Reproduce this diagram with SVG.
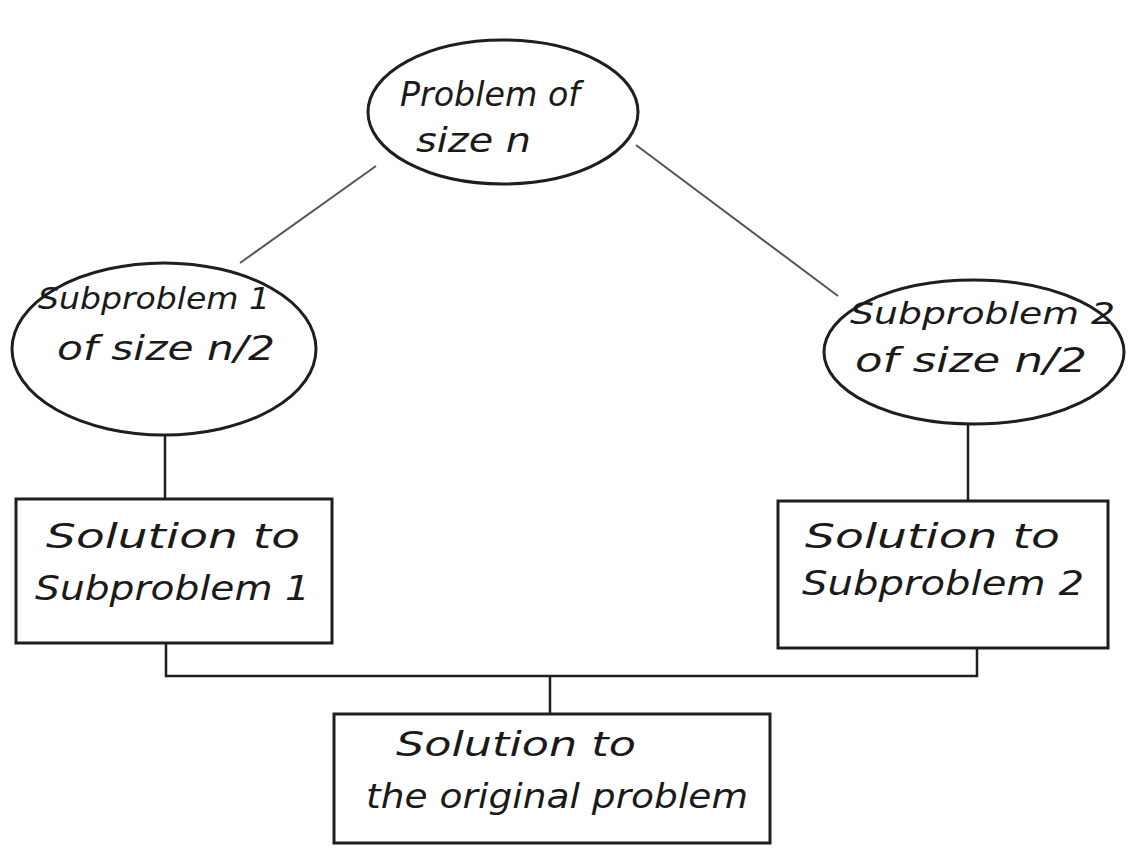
<svg xmlns="http://www.w3.org/2000/svg" width="1130" height="852" viewBox="0 0 1130 852">
<style>
.shape{fill:#fff;stroke:#1e1e1e;stroke-width:3}
.edge{fill:none;stroke:#1e1e1e;stroke-width:2.5}
.diag{fill:none;stroke:#555;stroke-width:2}
text{font-family:"DejaVu Sans","Liberation Sans",sans-serif;font-size:30px;fill:#1a1a1a;font-style:italic}
.big{font-size:34px}
</style>
<rect width="1130" height="852" fill="#fff"/>
<g id="connectors">
<line class="diag" x1="376" y1="166" x2="240" y2="263"/>
<line class="diag" x1="636" y1="145" x2="838" y2="296"/>
<line class="edge" x1="165" y1="435" x2="165" y2="499"/>
<line class="edge" x1="968" y1="424" x2="968" y2="501"/>
<polyline class="edge" points="166,642 166,676 977,676 977,648"/>
<line class="edge" x1="550" y1="676" x2="550" y2="714"/>
</g>
<g id="problem">
<ellipse class="shape" cx="503" cy="112" rx="135" ry="72"/>
<text class="big" x="400" y="106" textLength="180" lengthAdjust="spacingAndGlyphs">Problem of</text>
<text class="big" x="416" y="152" textLength="115" lengthAdjust="spacingAndGlyphs">size n</text>
</g>
<g id="sub1">
<ellipse class="shape" cx="164" cy="349" rx="152" ry="86"/>
<text x="38" y="309" textLength="232" lengthAdjust="spacingAndGlyphs">Subproblem 1</text>
<text class="big" x="57" y="360" textLength="218" lengthAdjust="spacingAndGlyphs">of size n/2</text>
</g>
<g id="sub2">
<ellipse class="shape" cx="974" cy="352" rx="150" ry="72"/>
<text x="850" y="324" textLength="265" lengthAdjust="spacingAndGlyphs">Subproblem 2</text>
<text class="big" x="855" y="372" textLength="232" lengthAdjust="spacingAndGlyphs">of size n/2</text>
</g>
<g id="sol1">
<rect class="shape" x="16" y="499" width="316" height="144"/>
<text class="big" x="46" y="548" textLength="254" lengthAdjust="spacingAndGlyphs">Solution to</text>
<text class="big" x="35" y="600" textLength="275" lengthAdjust="spacingAndGlyphs">Subproblem 1</text>
</g>
<g id="sol2">
<rect class="shape" x="778" y="501" width="330" height="147"/>
<text class="big" x="805" y="548" textLength="255" lengthAdjust="spacingAndGlyphs">Solution to</text>
<text class="big" x="802" y="595" textLength="282" lengthAdjust="spacingAndGlyphs">Subproblem 2</text>
</g>
<g id="final">
<rect class="shape" x="334" y="714" width="436" height="129"/>
<text class="big" x="396" y="756" textLength="240" lengthAdjust="spacingAndGlyphs">Solution to</text>
<text class="big" x="366" y="808" textLength="382" lengthAdjust="spacingAndGlyphs">the original problem</text>
</g>
</svg>
